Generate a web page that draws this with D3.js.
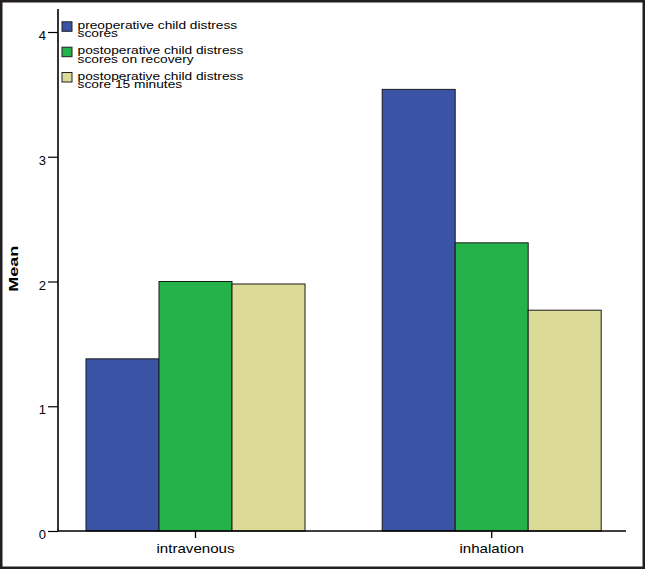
<!DOCTYPE html>
<html><head><meta charset="utf-8">
<script src="https://cdn.jsdelivr.net/npm/d3@7"></script>
<style>body{margin:0;background:#fff}svg{display:block}</style>
</head><body>
<svg id="chart" width="645" height="569"></svg>
<script>
const categories = ["intravenous", "inhalation"];
const seriesNames = [
  "preoperative child distress scores",
  "postoperative child distress scores on recovery",
  "postoperative child distress score 15 minutes"
];
const legendLines = [
  ["preoperative child distress", "scores"],
  ["postoperative child distress", "scores on recovery"],
  ["postoperative child distress", "score 15 minutes"]
];
const preoperative = [1.38, 3.54];
const postRecovery = [2.00, 2.31];
const post15min = [1.98, 1.77];
const seriesValues = [preoperative, postRecovery, post15min];
const seriesColors = ["#3a53a4", "#25b24b", "#dbdb97"];
const yTicks = [0, 1, 2, 3, 4];

const svg = d3.select("#chart");
const W = 645, H = 569;
svg.append("rect").attr("x", 0).attr("y", 0).attr("width", W).attr("height", H)
  .attr("fill", "#fff").attr("stroke", "#231f20").attr("stroke-width", 5);

const axisX = 58, axisBottomY = 531, axisTop = 9, axisRight = 626;
const y = d3.scaleLinear().domain([0, 4]).range([531, 32]);
const x0 = d3.scaleBand().domain(categories).range([47.4, 639.8]).padding(0);
const groupW = 219;
const x1 = d3.scaleBand().domain(seriesNames).range([0, groupW]).padding(0);
const off = (x0.bandwidth() - groupW) / 2;

// bars
const bars = [];
categories.forEach((c, ci) => {
  seriesNames.forEach((s, si) => bars.push({c, s, v: seriesValues[si][ci], color: seriesColors[si]}));
});
svg.append("g").selectAll("rect").data(bars).join("rect")
  .attr("x", d => x0(d.c) + off + x1(d.s))
  .attr("y", d => y(d.v))
  .attr("width", x1.bandwidth())
  .attr("height", d => y(0) - y(d.v))
  .attr("fill", d => d.color)
  .attr("stroke", "#1a1a1a").attr("stroke-width", 1);

// y axis
const gy = svg.append("g").attr("transform", `translate(${axisX},0)`)
  .call(d3.axisLeft(y).tickValues(yTicks).tickFormat(d3.format("d")).tickSize(10).tickPadding(2).tickSizeOuter(0));
gy.select(".domain").remove();
gy.selectAll(".tick line").attr("stroke", "#000").attr("stroke-width", 1.2);
gy.selectAll(".tick text").attr("dy", 0).attr("y", 7.5)
  .attr("font-family", "Liberation Sans, Arial, sans-serif").attr("font-size", 13).attr("fill", "#000");
svg.append("line").attr("x1", axisX).attr("x2", axisX).attr("y1", axisTop).attr("y2", axisBottomY)
  .attr("stroke", "#000").attr("stroke-width", 1.6);

// x axis
const gx = svg.append("g").attr("transform", `translate(0,${axisBottomY})`)
  .call(d3.axisBottom(x0).tickSize(7).tickSizeOuter(0));
gx.select(".domain").remove();
gx.selectAll(".tick line").attr("stroke", "#000").attr("stroke-width", 1.3);
gx.selectAll(".tick text").attr("dy", 0).attr("y", 21.7)
  .attr("font-family", "Liberation Sans, Arial, sans-serif").attr("font-size", 13).attr("fill", "#000")
  .each(function() { const w = this.getComputedTextLength(); this.setAttribute("textLength", w * 1.16); this.setAttribute("lengthAdjust", "spacingAndGlyphs"); });
svg.append("line").attr("x1", axisX).attr("x2", axisRight).attr("y1", axisBottomY).attr("y2", axisBottomY)
  .attr("stroke", "#000").attr("stroke-width", 1.3);

// y label
const ml = svg.append("text").attr("transform", "translate(17.5,268.7) rotate(-90)")
  .attr("text-anchor", "middle").attr("font-family", "Liberation Sans, Arial, sans-serif")
  .attr("font-weight", "bold").attr("font-size", 13).attr("fill", "#000").text("Mean");
{ const n = ml.node(); n.setAttribute("textLength", 46); n.setAttribute("lengthAdjust", "spacingAndGlyphs"); }

// legend
const lg = svg.append("g");
const rowY = [28.8, 54.2, 79.5];
const texts = [];
legendLines.forEach((lines, i) => {
  lg.append("rect").attr("x", 62).attr("y", rowY[i] - 7).attr("width", 10).attr("height", 9.5)
    .attr("fill", seriesColors[i]).attr("stroke", "#222").attr("stroke-width", 1);
  const t = lg.append("text")
    .attr("font-family", "Liberation Sans, Arial, sans-serif").attr("font-size", 10).attr("fill", "#000");
  lines.forEach((s, j) => {
    t.append("tspan").attr("x", 0).attr("y", j * 8.3).text(s);
  });
  texts.push({t, y: rowY[i]});
});
const firstW = texts[0].t.select("tspan").node().getComputedTextLength();
const k = 160 / firstW;
texts.forEach(o => o.t.attr("transform", `translate(77.5,${o.y}) scale(${k},1)`));
</script>
</body></html>
